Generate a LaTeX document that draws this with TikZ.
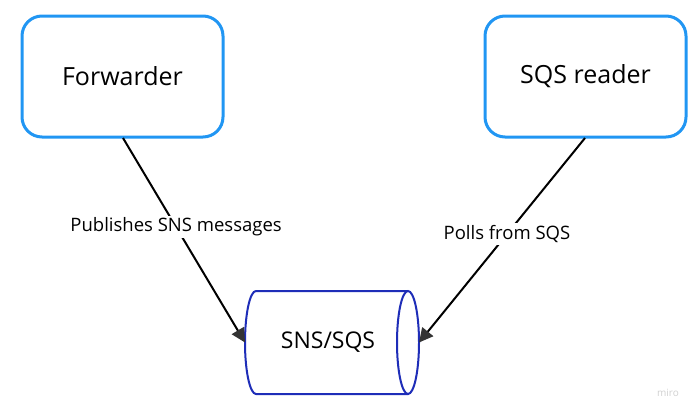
\documentclass[tikz,border=0pt]{standalone}
\usepackage{fontspec}
\setmainfont{Open Sans}
\usepackage{tikz}
\usetikzlibrary{arrows.meta}
\definecolor{boxblue}{HTML}{2196F3}
\definecolor{cylblue}{HTML}{1E2DB8}
\definecolor{tipgray}{HTML}{333333}
\definecolor{markgray}{HTML}{D0D0D0}

\begin{document}
\begin{tikzpicture}[x=1pt, y=-1pt,
        servicebox/.style={draw=boxblue, line width=3pt, rounded corners=20pt,
            minimum width=201pt, minimum height=121pt, inner sep=0pt,
            font=\fontsize{25}{29}\selectfont},
        queuebox/.style={minimum width=174pt, minimum height=103pt, inner sep=0pt,
            outer sep=0pt, font=\fontsize{23}{27}\selectfont},
        queueline/.style={draw=cylblue, line width=2pt, fill=white},
        flow/.style={draw=black, line width=2pt,
            -{Triangle[length=14pt, width=14pt, color=tipgray]}},
        flowlabel/.style={fill=white, inner sep=2pt, font=\fontsize{18.5}{22}\selectfont}]
    \useasboundingbox (0,0) rectangle (700,413);

    % the two services
    \node[servicebox] (forwarder) at (122.5,76.5) {Forwarder};
    \node[servicebox] (reader) at (585.5,76.5) {SQS reader};

    % the queue, drawn as a lying cylinder round its node
    \node[queuebox] (queue) at (332,342.5) {};
    \draw[queueline] ([xshift=-11pt]queue.north east) -- ([xshift=11pt]queue.north west)
        arc[start angle=90, end angle=270, x radius=11pt, y radius=51.5pt]
        -- ([xshift=-11pt]queue.south east);
    \draw[queueline] ([xshift=-11pt]queue.east) ellipse [x radius=11pt, y radius=51.5pt];
    \node[queuebox, minimum width=0pt, minimum height=0pt] (queuetext) at ([xshift=-4pt]queue.center) {SNS/SQS};

    % messages in and out
    \draw[flow] (123,138) -- (queue.west)
        node[flowlabel, pos=0.435] (publabel) {Publishes SNS messages};
    \draw[flow] (585,138) -- (queue.east)
        node[flowlabel, pos=0.47] (polllabel) {Polls from SQS};

    \node[text=markgray, font=\fontsize{10}{12}\selectfont] (mark) at (668,393) {miro};
\end{tikzpicture}
\end{document}
